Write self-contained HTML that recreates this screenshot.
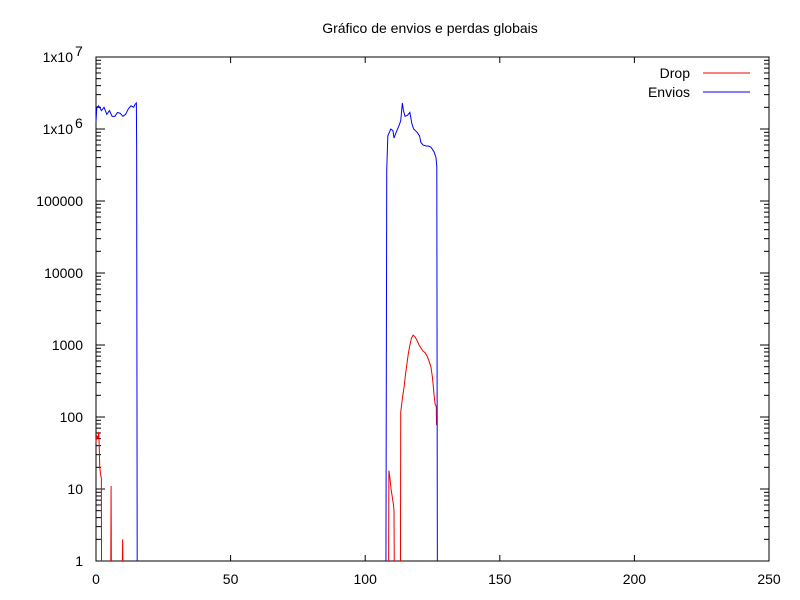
<!DOCTYPE html>
<html><head><meta charset="utf-8"><style>
body{margin:0;background:#fff;}
svg{display:block;font-family:"Liberation Sans",sans-serif;}
</style></head><body>
<svg id="chart" width="800" height="600" viewBox="0 0 800 600" xmlns="http://www.w3.org/2000/svg">
<rect width="800" height="600" fill="#fff"/>
<text x="430" y="33" font-size="14" text-anchor="middle">Gráfico de envios e perdas globais</text>
<g id="axes"></g>
<g id="series"></g>
<g>
<text x="690" y="78" font-size="14" text-anchor="end">Drop</text>
<line x1="703" y1="73" x2="750" y2="73" stroke="#e00" stroke-width="1"/>
<text x="690" y="97" font-size="14" text-anchor="end">Envios</text>
<line x1="703" y1="92" x2="750" y2="92" stroke="#00f" stroke-width="1"/>
</g>
</svg>
<script>
const xTicks=[0,50,100,150,200,250];
const yTicks=[1,10,100,1000,10000,100000,1000000,10000000];
const yTickLabels=["1","10","100","1000","10000","100000","1x10^6","1x10^7"];
const enviosSeg1X=[0,0.3,1,2,3,4,5,6,7,8,9,10,11,12,13,14,14.5,15,15.1,15.3];
const enviosSeg1V=[1.25e6,2.0e6,2.1e6,1.8e6,2.0e6,1.6e6,1.8e6,1.5e6,1.5e6,1.7e6,1.65e6,1.5e6,1.6e6,1.9e6,2.1e6,2.0e6,2.2e6,2.3e6,5e5,1];
const enviosSeg2X=[107.7,108,108.4,109.5,110.3,110.7,111.5,112.5,113.2,113.8,114.2,114.8,115.7,116.6,117.3,118,119.3,120.2,120.7,121.5,122.6,123.5,124.4,125,125.6,126.3,126.6,126.8];
const enviosSeg2V=[1,2.7e5,8e5,1e6,9.5e5,7.5e5,9e5,1.1e6,1.3e6,2.3e6,1.8e6,1.5e6,1.55e6,1.7e6,1.2e6,1.0e6,9e5,8e5,6.5e5,6e5,5.8e5,5.8e5,5.6e5,5.2e5,4.8e5,4e5,3e5,1];
const dropSeg1X=[0,0.3,0.7,1,1.2,1.4,1.7,2,2.05];
const dropSeg1V=[45,55,50,62,40,20,16,14,1];
const dropSeg2X=[5.5,5.6,5.7];
const dropSeg2V=[1,11,1];
const dropSeg3X=[9.8,9.9,10];
const dropSeg3V=[1,2,1];
const dropSeg4X=[108.7,108.8,109.2,109.6,110,110.5,110.7,110.8];
const dropSeg4V=[1,18,14,10,8,6,5,1];
const dropSeg5X=[113.1,113.2,113.8,114.5,115,115.5,116,116.6,117.2,117.8,118.5,119.3,120,120.8,121.5,122.3,123,123.7,124.4,125,125.6,126,126.4,126.5];
const dropSeg5V=[1,117,180,270,400,550,750,1000,1250,1370,1300,1150,1000,900,820,780,700,600,500,350,200,150,140,77];

const X0=96,X1=769,Y0=561,Y1=57;
const xs=v=>X0+(v-0)/(250-0)*(X1-X0);
const ys=v=>Y0-(Math.log10(v)-0)/(7-0)*(Y0-Y1);
const NS="http://www.w3.org/2000/svg";
const axes=document.getElementById('axes');
const series=document.getElementById('series');
function mk(tag,attrs,parent){const e=document.createElementNS(NS,tag);for(const k in attrs)e.setAttribute(k,attrs[k]);parent.appendChild(e);return e;}

const frame=mk('rect',{x:X0,y:Y1,width:X1-X0,height:Y0-Y1,fill:'none',stroke:'#000','stroke-width':1},axes);



xTicks.forEach((t,i)=>{
  const x=xs(t);
  const l=mk('line',{x1:x,y1:Y0,x2:x,y2:Y0-6,stroke:'#000'},axes);
  
  
  const l2=mk('line',{x1:x,y1:Y1,x2:x,y2:Y1+6,stroke:'#000'},axes);
  
  
  const tx=mk('text',{x:x,y:Y0+23,'font-size':14,'text-anchor':'middle'},axes);
  tx.textContent=String(t);
  
  
});

yTicks.forEach((t,i)=>{
  const y=ys(t);
  const l=mk('line',{x1:X0,y1:y,x2:X0+9,y2:y,stroke:'#000'},axes);
  
  
  const l2=mk('line',{x1:X1,y1:y,x2:X1-9,y2:y,stroke:'#000'},axes);
  
  
  if(i<yTicks.length-1){
    for(let m=2;m<=9;m++){
      const ym=ys(t*m);
      const a=mk('line',{x1:X0,y1:ym,x2:X0+5,y2:ym,stroke:'#000'},axes);
      
      
      const b=mk('line',{x1:X1,y1:ym,x2:X1-5,y2:ym,stroke:'#000'},axes);
      
      
    }
  }
  const lab=yTickLabels[i];
  const tx=mk('text',{x:83,y:y+5,'font-size':14,'text-anchor':'end'},axes);
  
  
  if(lab.includes('^')){
    const [b,e]=lab.split('^');
    tx.setAttribute('x',73);
    tx.textContent=b;
    const sup=mk('text',{x:75,y:y-1,'font-size':14,'text-anchor':'start'},axes);
    sup.textContent=e;
    
    
  } else tx.textContent=lab;
});

function line(X,V,color,name){
  const pts=X.map((x,i)=>xs(x).toFixed(2)+','+ys(V[i]).toFixed(2)).join(' ');
  const p=mk('polyline',{points:pts,fill:'none',stroke:color,'stroke-width':1},series);
  
  
}
line(dropSeg1X,dropSeg1V,'#e00','drop-line');
line(dropSeg2X,dropSeg2V,'#e00','drop-line');
line(dropSeg3X,dropSeg3V,'#e00','drop-line');
line(dropSeg4X,dropSeg4V,'#e00','drop-line');
line(dropSeg5X,dropSeg5V,'#e00','drop-line');
line(enviosSeg1X,enviosSeg1V,'#00f','envios-line');
line(enviosSeg2X,enviosSeg2V,'#00f','envios-line');
</script>
</body></html>
